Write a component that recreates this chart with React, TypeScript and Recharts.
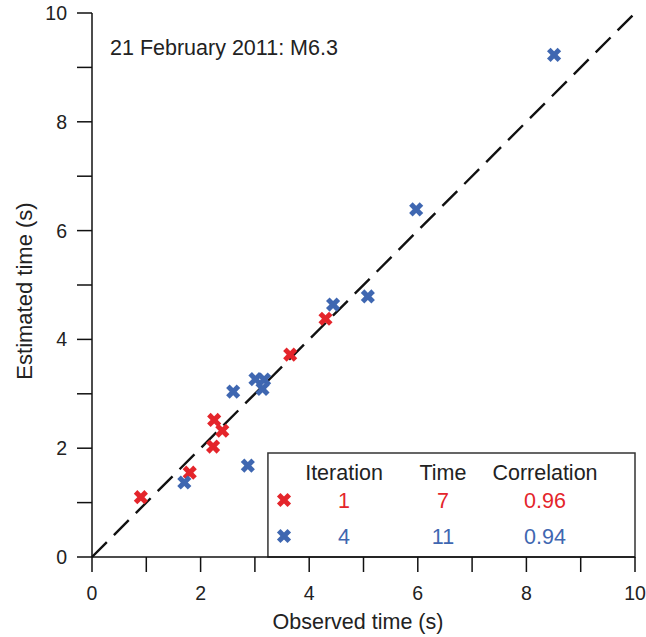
import React from "react";
import {
  ScatterChart,
  Scatter,
  XAxis,
  YAxis,
  ReferenceLine,
  ReferenceArea,
} from "recharts";

const RED = "#E4252B";
const BLUE = "#3F67B1";
const FONT = "'Liberation Sans', Arial, Helvetica, sans-serif";

const iter1Observed = [0.9, 1.8, 2.23, 2.25, 2.4, 3.65, 4.3];
const iter1Estimated = [1.1, 1.55, 2.03, 2.52, 2.32, 3.72, 4.38];
const iter4Observed = [1.7, 2.87, 2.6, 3.01, 3.17, 3.14, 4.44, 5.08, 5.97, 8.51];
const iter4Estimated = [1.37, 1.68, 3.04, 3.27, 3.26, 3.09, 4.64, 4.79, 6.39, 9.23];
const axisTicks = [0, 1, 2, 3, 4, 5, 6, 7, 8, 9, 10];

const legendRows = [
  { iteration: "1", time: "7", correlation: "0.96", color: RED },
  { iteration: "4", time: "11", correlation: "0.94", color: BLUE },
];

const iter1 = iter1Observed.map((x, i) => ({ x, y: iter1Estimated[i] }));
const iter4 = iter4Observed.map((x, i) => ({ x, y: iter4Estimated[i] }));

const Cross = ({ cx, cy, color }: { cx: number; cy: number; color: string }) => (
  <g>
    <line x1={cx - 5.3} y1={cy - 5.3} x2={cx + 5.3} y2={cy + 5.3} stroke={color} strokeWidth={5} />
    <line x1={cx - 5.3} y1={cy + 5.3} x2={cx + 5.3} y2={cy - 5.3} stroke={color} strokeWidth={5} />
  </g>
);

const makeShape = (color: string) => (props: any) => (
  <Cross cx={props.cx} cy={props.cy} color={color} />
);

const fmt = (v: number) => (v % 2 === 0 ? String(v) : "");

export default function App() {
  return (
    <div style={{ position: "absolute", left: 0, top: 0, width: 646, height: 637, background: "#fff" }}>
      <ScatterChart
        width={646}
        height={637}
        margin={{ top: 13, right: 11, left: 0, bottom: 0 }}
        style={{ fontFamily: FONT }}
      >
        <XAxis
          xAxisId="top"
          orientation="top"
          type="number"
          dataKey="x"
          domain={[0, 10]}
          height={0}
          tick={false}
          tickLine={false}
          axisLine={{ stroke: "#555", strokeWidth: 1.5 }}
        />
        <YAxis
          yAxisId="right"
          orientation="right"
          type="number"
          dataKey="y"
          domain={[0, 10]}
          width={0}
          tick={false}
          tickLine={false}
          axisLine={{ stroke: "#555", strokeWidth: 1.5 }}
        />
        <XAxis
          type="number"
          dataKey="x"
          domain={[0, 10]}
          ticks={axisTicks}
          tickFormatter={fmt}
          interval={0}
          height={80}
          tickSize={15}
          tickMargin={14}
          allowDataOverflow
          axisLine={{ stroke: "#111", strokeWidth: 1.5 }}
          tickLine={{ stroke: "#111", strokeWidth: 1.5 }}
          tick={{ fill: "#222", fontSize: 19.5, fontFamily: FONT }}
        />
        <YAxis
          type="number"
          dataKey="y"
          domain={[0, 10]}
          ticks={axisTicks}
          tickFormatter={fmt}
          interval={0}
          width={92}
          tickSize={15}
          tickMargin={10}
          allowDataOverflow
          axisLine={{ stroke: "#111", strokeWidth: 1.5 }}
          tickLine={{ stroke: "#111", strokeWidth: 1.5 }}
          tick={{ fill: "#222", fontSize: 19.5, fontFamily: FONT }}
        />
        <ReferenceLine
          segment={[{ x: 0, y: 0 }, { x: 10, y: 10 }]}
          stroke="#111"
          strokeWidth={2.4}
          strokeDasharray="21 10"
        />
        <Scatter data={iter1} shape={makeShape(RED)} isAnimationActive={false} />
        <Scatter data={iter4} shape={makeShape(BLUE)} isAnimationActive={false} />
        <ReferenceArea
          x1={3.24}
          x2={10}
          y1={0}
          y2={1.91}
          fill="none"
          fillOpacity={0}
          stroke="#333"
          strokeWidth={1.5}
        />
        <g fontFamily={FONT}>
          <text x={110} y={55} fontSize={21.5} fill="#222">
            21 February 2011: M6.3
          </text>
          <text x={358} y={629} fontSize={21.5} fill="#222" textAnchor="middle">
            Observed time (s)
          </text>
          <text
            transform="translate(32,291) rotate(-90)"
            fontSize={22}
            fill="#222"
            textAnchor="middle"
          >
            Estimated time (s)
          </text>
          <text x={344} y={480} fontSize={21.5} fill="#222" textAnchor="middle">Iteration</text>
          <text x={443} y={480} fontSize={21.5} fill="#222" textAnchor="middle">Time</text>
          <text x={545} y={480} fontSize={21.5} fill="#222" textAnchor="middle">Correlation</text>
          {legendRows.map((r, i) => {
            const base = i === 0 ? 508 : 544;
            return (
              <g key={r.iteration}>
                <Cross cx={284} cy={base - 8} color={r.color} />
                <text x={344} y={base} fontSize={21.5} fill={r.color} textAnchor="middle">{r.iteration}</text>
                <text x={443} y={base} fontSize={21.5} fill={r.color} textAnchor="middle">{r.time}</text>
                <text x={545} y={base} fontSize={21.5} fill={r.color} textAnchor="middle">{r.correlation}</text>
              </g>
            );
          })}
        </g>
      </ScatterChart>
    </div>
  );
}
